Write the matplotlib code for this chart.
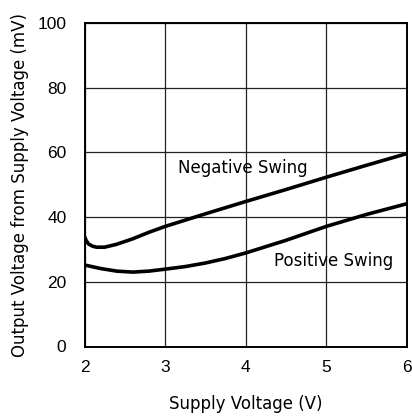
import matplotlib
matplotlib.use("Agg")
import matplotlib.pyplot as plt
from matplotlib import font_manager

neg_x = [2.0, 2.02, 2.05, 2.1, 2.15, 2.25, 2.4, 2.6, 2.8, 3.0, 3.5, 4.0, 4.5, 5.0, 5.5, 6.0]
neg_y = [34.0, 32.8, 31.7, 31.0, 30.7, 30.7, 31.6, 33.3, 35.3, 37.1, 41.0, 44.8, 48.5, 52.3, 56.0, 59.6]
pos_x = [2.0, 2.2, 2.4, 2.6, 2.8, 3.0, 3.25, 3.5, 3.75, 4.0, 4.5, 5.0, 5.5, 6.0]
pos_y = [25.2, 24.1, 23.3, 23.0, 23.3, 23.9, 24.7, 25.8, 27.2, 28.9, 32.8, 37.1, 40.8, 44.1]
x_ticks = [2, 3, 4, 5, 6]
y_ticks = [0, 20, 40, 60, 80, 100]

names = {f.name for f in font_manager.fontManager.ttflist}
tick_family = "DejaVu Sans"
for cand in ["DejaVu Sans Condensed", "Liberation Sans Narrow", "Liberation Sans"]:
    if cand in names:
        tick_family = cand
        break

fig = plt.figure(figsize=(4.12, 4.17), dpi=100)
ax = fig.add_axes([84.5/412, 1 - 346.5/417, (406.5-84.5)/412, (346.5-23)/417])
ax.plot(neg_x, neg_y, color="black", lw=2.6, solid_capstyle="butt", solid_joinstyle="round")
ax.plot(pos_x, pos_y, color="black", lw=2.6, solid_capstyle="butt", solid_joinstyle="round")
ax.set_xlim(2, 6)
ax.set_ylim(0, 100)
ax.set_xticks(x_ticks)
ax.set_yticks(y_ticks)
ax.grid(True, color="#222222", lw=0.9)
ax.tick_params(length=0, labelsize=12.5)
ax.tick_params(axis="y", pad=13)
ax.tick_params(axis="x", pad=10)
for lab in ax.get_xticklabels() + ax.get_yticklabels():
    lab.set_family(tick_family)
for s in ax.spines.values():
    s.set_linewidth(1.4)
ax.set_xlabel("Supply Voltage (V)", fontsize=12, labelpad=14)
ax.set_ylabel("Output Voltage from Supply Voltage (mV)", fontsize=12, va="center")
ax.yaxis.set_label_coords((20 - 84.5) / 322, 0.5)
ax.text(3.16, 55.3, "Negative Swing", fontsize=12, va="center", ha="left")
ax.text(4.35, 26.3, "Positive Swing", fontsize=12, va="center", ha="left")
fig.savefig("out.png", dpi=100)
